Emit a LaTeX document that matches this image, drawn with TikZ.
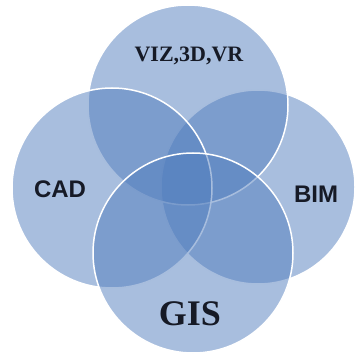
\documentclass[tikz,border=0pt]{standalone}
\usepackage{fontspec}
\newfontfamily\serifbold{Liberation Serif}
\newfontfamily\sansbold{Liberation Sans}
\usepackage{tikz}
\definecolor{vennblue}{RGB}{81,125,189}
\definecolor{labelink}{RGB}{22,26,38}
\newcommand\disc[3]{\node[disc,minimum size=#3] (#1) at (#2) {};}
\newcommand\dlabel[4]{\node[dlabel,font=#3] (#1-label) at (#2) {#4};}

\begin{document}
\begin{tikzpicture}[x=1pt,y=-1pt]
\tikzstyle{disc}=[circle,inner sep=0pt,fill=vennblue,fill opacity=0.5,draw=white,line width=1.5pt]
\tikzstyle{dlabel}=[text=labelink,inner sep=0pt,anchor=center]
\useasboundingbox (0,0) rectangle (356,358);

%% circles, back to front
\disc{bim}{258,187}{194pt}
\disc{viz}{188,105}{200pt}
\disc{cad}{112,188}{200pt}
\disc{gis}{193,253}{200pt}

%% texts
\dlabel{viz}{189,56}{\serifbold\bfseries\fontsize{22}{22}\selectfont}{VIZ,3D,VR}
\dlabel{cad}{60,189}{\sansbold\bfseries\fontsize{24}{24}\selectfont}{CAD}
\dlabel{bim}{316,194}{\sansbold\bfseries\fontsize{24}{24}\selectfont}{BIM}
\dlabel{gis}{190,314}{\serifbold\bfseries\fontsize{36}{36}\selectfont}{GIS}
\end{tikzpicture}
\end{document}
